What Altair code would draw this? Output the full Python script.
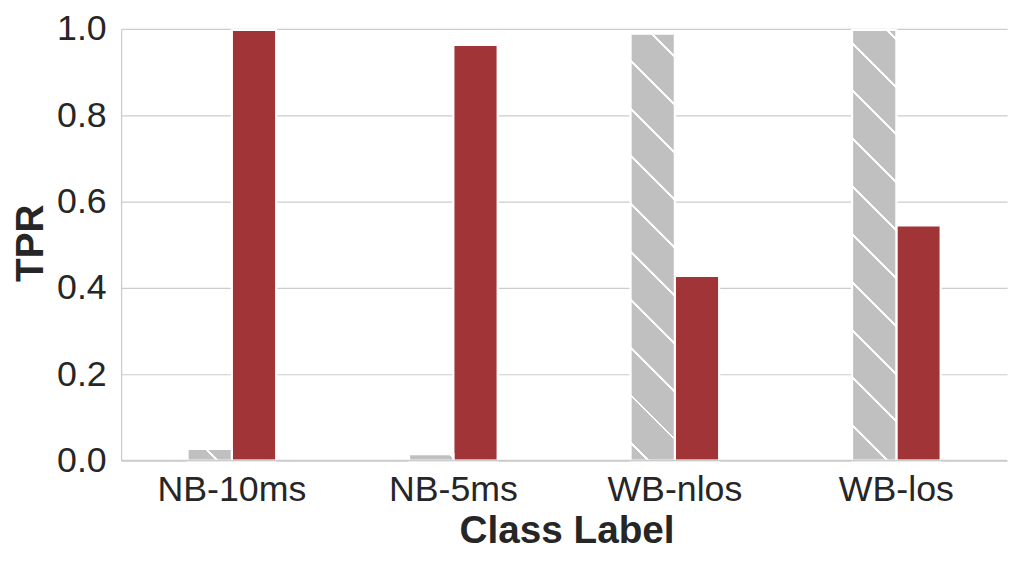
import math
import altair as alt
import pandas as pd

# ---- data ----
categories = ["NB-10ms", "NB-5ms", "WB-nlos", "WB-los"]
series = ["Baseline", "Proposed"]
grey_tpr = [0.027, 0.015, 0.989, 0.998]
red_tpr = [0.998, 0.963, 0.428, 0.545]
y_ticks = [0.0, 0.2, 0.4, 0.6, 0.8, 1.0]

# ---- style ----
GREY = "#c0c0c0"
RED = "#a13437"
GRID = "#cccccc"
TEXT = "#262626"
FONT = "Liberation Sans"

W, H = 893, 435
PAD_L, PAD_T, PAD_R, PAD_B = 114, 19, 14, 90
MARGIN = 8
P_IN, P_OUT = 0.6, 0.3   # band = 0.4 of each category step

rows = []
for c, g, r in zip(categories, grey_tpr, red_tpr):
    rows.append({"label": c, "series": series[0], "tpr": g})
    rows.append({"label": c, "series": series[1], "tpr": r})
df = pd.DataFrame(rows)


def hatch_gradient(i, v, period=48.2, phase=1.5, thick=3.0):
    """Diagonal '\\' hatch imitated with a hard-stop linear gradient."""
    step = W / len(categories)
    w = step * (1 - P_IN) / len(series)
    x0 = MARGIN + PAD_L + i * step + P_OUT * step
    h = max(v * H, 0.5)
    y0 = MARGIN + PAD_T + H - h
    L = h + w

    def t(s):
        return min(max((s + w) / L, 0.0), 1.0)

    shift = y0 - x0
    stops = [{"offset": 0, "color": GREY}]
    kmin = math.floor((-w + shift - phase) / period) - 1
    kmax = math.ceil((h + shift - phase) / period) + 1
    for k in range(kmin, kmax + 1):
        s = phase + k * period - shift
        a, b = t(s - thick / 2), t(s + thick / 2)
        if b <= 0 or a >= 1:
            continue
        stops += [
            {"offset": a, "color": GREY},
            {"offset": a, "color": "#ffffff"},
            {"offset": b, "color": "#ffffff"},
            {"offset": b, "color": GREY},
        ]
    stops.append({"offset": 1, "color": GREY})
    aa = -w / L
    bb = h / L
    n = aa * aa + bb * bb
    return {"gradient": "linear", "stops": stops,
            "x1": 1, "y1": 0, "x2": 1 + aa / n, "y2": bb / n}


x_enc = alt.X(
    "label:N",
    sort=categories,
    scale=alt.Scale(domain=categories, paddingInner=P_IN, paddingOuter=P_OUT),
    axis=alt.Axis(
        title="Class Label", grid=False, domain=False, ticks=False, tickSize=0,
        labelAngle=0, labelPadding=40, labelBaseline="alphabetic",
        titleBaseline="alphabetic", titleY=82.6, titleX=449,
    ),
)
xoff_enc = alt.XOffset(
    "series:N",
    scale=alt.Scale(domain=series, paddingInner=0, paddingOuter=0),
)
y_enc = alt.Y(
    "tpr:Q",
    scale=alt.Scale(domain=[0, 1], nice=False, zero=True),
    axis=alt.Axis(
        title="TPR", values=y_ticks, format=".1f", grid=True, gridColor=GRID,
        gridWidth=1.25, domain=True, domainColor=GRID, domainWidth=1.3,
        ticks=False, tickSize=0, labelPadding=15,
        titleAngle=270, titleBaseline="alphabetic", titleX=-79.3, titleY=215.5,
    ),
)

base = alt.Chart(df)

red_layer = base.transform_filter(
    alt.datum.series == series[1]
).mark_bar(fill=RED, stroke="white", strokeWidth=2.2).encode(
    x=x_enc, xOffset=xoff_enc, y=y_enc
)

layers = [red_layer]
for i, (c, g) in enumerate(zip(categories, grey_tpr)):
    lyr = base.transform_filter(
        (alt.datum.series == series[0]) & (alt.datum.label == c)
    ).mark_bar(fill=hatch_gradient(i, g), stroke="white", strokeWidth=2.2).encode(
        x=x_enc, xOffset=xoff_enc, y=y_enc
    )
    layers.append(lyr)

baseline = alt.Chart(pd.DataFrame({"z": [0]})).mark_rule(
    color=GRID, strokeWidth=1.5
).encode(y=alt.datum(0))
layers.append(baseline)

chart = alt.layer(*layers).properties(
    width=W,
    height=H,
    autosize=alt.AutoSizeParams(type="none"),
    padding={"left": PAD_L, "top": PAD_T, "right": PAD_R, "bottom": PAD_B},
    background="white",
).configure_view(stroke=None).configure_axis(
    labelFont=FONT, labelFontSize=36, labelColor=TEXT,
    titleFont=FONT, titleFontSize=39, titleFontWeight="bold", titleColor=TEXT,
)

chart.save("out.html", embed_options={"renderer": "svg", "actions": False})
